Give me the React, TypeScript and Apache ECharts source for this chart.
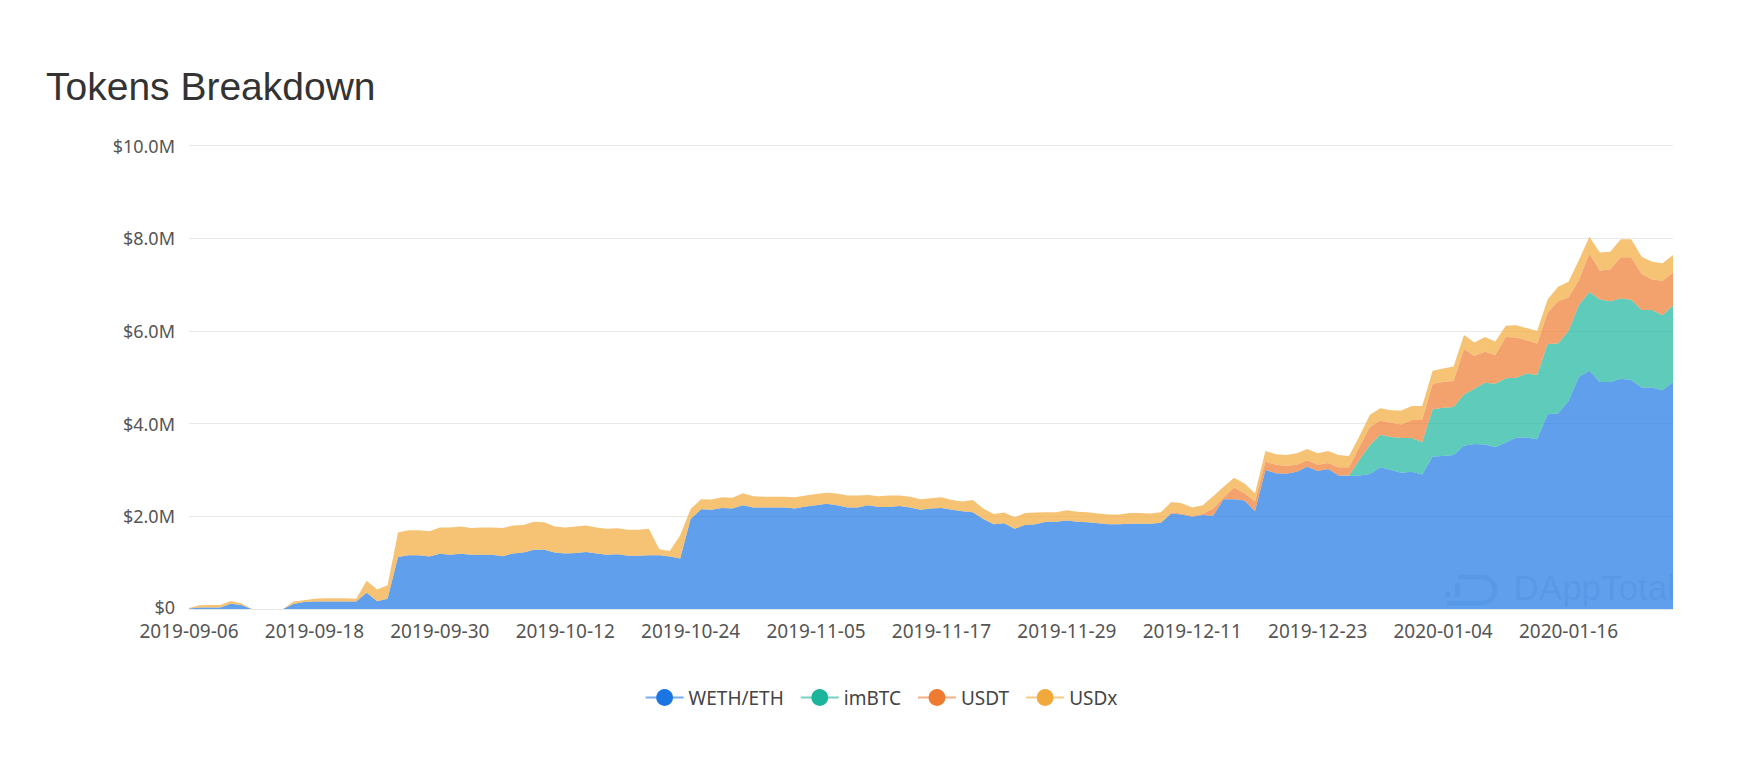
import React, { useEffect, useRef } from "react";
import * as echarts from "echarts";

// ---------- data (values in millions of USD) ----------
const START_DATE = "2019-09-06";

const SERIES_NAMES = ["WETH/ETH", "imBTC", "USDT", "USDx"];

const WETH = [
  0.01, 0.03, 0.03, 0.03, 0.115, 0.085, 0, 0, 0, 0,
  0.11, 0.15, 0.16, 0.16, 0.16, 0.16, 0.16, 0.35, 0.165, 0.22,
  1.12, 1.16, 1.16, 1.13, 1.19, 1.17, 1.19, 1.17, 1.17, 1.17,
  1.14, 1.2, 1.22, 1.28, 1.28, 1.22, 1.2, 1.21, 1.23, 1.2,
  1.17, 1.18, 1.15, 1.15, 1.16, 1.16, 1.13, 1.09, 1.94, 2.15,
  2.14, 2.18, 2.17, 2.24, 2.19, 2.19, 2.19, 2.19, 2.17, 2.21,
  2.24, 2.27, 2.24, 2.19, 2.19, 2.24, 2.2, 2.2, 2.22, 2.19,
  2.14, 2.17, 2.18, 2.14, 2.11, 2.09, 1.94, 1.83, 1.85, 1.73,
  1.81, 1.83, 1.88, 1.88, 1.91, 1.88, 1.87, 1.85, 1.83, 1.83,
  1.84, 1.84, 1.84, 1.86, 2.06, 2.04, 1.99, 2.03, 2.01, 2.37,
  2.37, 2.34, 2.11, 3.0, 2.93, 2.92, 2.96, 3.07, 2.98, 3.02,
  2.88, 2.87, 2.88, 2.91, 3.06, 3.0, 2.94, 2.96, 2.9, 3.29,
  3.3, 3.32, 3.52, 3.56, 3.55, 3.49, 3.59, 3.7, 3.7, 3.66,
  4.2, 4.22, 4.49, 5.01, 5.14, 4.9, 4.9, 4.97, 4.94, 4.78,
  4.78, 4.72, 4.9,
];

const IMBTC = [
  0, 0, 0, 0, 0, 0, 0, 0, 0, 0, 0, 0, 0, 0, 0, 0, 0, 0, 0, 0,
  0, 0, 0, 0, 0, 0, 0, 0, 0, 0, 0, 0, 0, 0, 0, 0, 0, 0, 0, 0,
  0, 0, 0, 0, 0, 0, 0, 0, 0, 0, 0, 0, 0, 0, 0, 0, 0, 0, 0, 0,
  0, 0, 0, 0, 0, 0, 0, 0, 0, 0, 0, 0, 0, 0, 0, 0, 0, 0, 0, 0,
  0, 0, 0, 0, 0, 0, 0, 0, 0, 0, 0, 0, 0, 0, 0, 0, 0, 0, 0, 0,
  0, 0, 0, 0, 0, 0, 0, 0, 0, 0, 0,
  0.01, 0.34, 0.63, 0.7, 0.71, 0.75, 0.73, 0.7, 1.02, 1.04,
  1.04, 1.11, 1.19, 1.33, 1.37, 1.39, 1.29, 1.38, 1.39, 1.52,
  1.51, 1.51, 1.55, 1.7, 1.78, 1.74, 1.73, 1.73, 1.67, 1.67,
  1.62, 1.65,
];

const USDT = [
  0, 0, 0, 0, 0, 0, 0, 0, 0, 0, 0, 0, 0, 0, 0, 0, 0, 0, 0, 0,
  0, 0, 0, 0, 0, 0, 0, 0, 0, 0, 0, 0, 0, 0, 0, 0, 0, 0, 0, 0,
  0, 0, 0, 0, 0, 0, 0, 0, 0, 0, 0, 0, 0, 0, 0, 0, 0, 0, 0, 0,
  0, 0, 0, 0, 0, 0, 0, 0, 0, 0, 0, 0, 0, 0, 0, 0, 0, 0, 0, 0,
  0, 0, 0, 0, 0, 0, 0, 0, 0, 0, 0, 0, 0, 0,
  0.02, 0.02, 0.02, 0.02, 0.16, 0.04, 0.25, 0.16, 0.21, 0.18,
  0.18, 0.17, 0.15, 0.14, 0.13, 0.13, 0.18, 0.18, 0.28, 0.39,
  0.3, 0.31, 0.29, 0.39, 0.48, 0.55, 0.56, 0.56, 0.98, 0.71,
  0.67, 0.62, 0.89, 0.87, 0.72, 0.68, 0.67, 0.91, 0.72, 0.54,
  0.83, 0.62, 0.69, 0.89, 0.92, 0.78, 0.66, 0.74, 0.71,
];

const USDX = [
  0.01, 0.05, 0.055, 0.055, 0.055, 0.04, 0, 0, 0, 0,
  0.05, 0.04, 0.06, 0.07, 0.07, 0.07, 0.06, 0.26, 0.255, 0.29,
  0.53, 0.54, 0.54, 0.55, 0.57, 0.59, 0.59, 0.58, 0.59, 0.59,
  0.61, 0.6, 0.59, 0.6, 0.59, 0.56, 0.56, 0.57, 0.57, 0.56,
  0.56, 0.56, 0.56, 0.56, 0.57, 0.13, 0.12, 0.5, 0.22, 0.22,
  0.22, 0.23, 0.23, 0.26, 0.24, 0.23, 0.23, 0.23, 0.24, 0.24,
  0.24, 0.24, 0.25, 0.26, 0.26, 0.22, 0.23, 0.25, 0.23, 0.23,
  0.23, 0.22, 0.23, 0.21, 0.21, 0.26, 0.23, 0.22, 0.23, 0.25,
  0.26, 0.25, 0.21, 0.21, 0.22, 0.22, 0.22, 0.21, 0.21, 0.21,
  0.23, 0.23, 0.22, 0.23, 0.23, 0.22, 0.18, 0.19, 0.26, 0.23,
  0.21, 0.21, 0.18, 0.23, 0.23, 0.23, 0.25, 0.24, 0.25, 0.26,
  0.26, 0.24, 0.23, 0.26, 0.27, 0.27, 0.3, 0.3, 0.3, 0.28,
  0.29, 0.31, 0.3, 0.29, 0.32, 0.29, 0.24, 0.26, 0.26, 0.27,
  0.29, 0.31, 0.34, 0.43, 0.36, 0.39, 0.38, 0.39, 0.39, 0.37,
  0.38, 0.38, 0.38,
];

const Y_MAX = 10;
const Y_STEP = 2;
const X_LABEL_EVERY = 12;

// ---------- styles ----------
const COLORS = ["#1B76E4", "#1BB59C", "#EE7B30", "#F2A93B"];
const FONT = "'Noto Sans', 'Open Sans', sans-serif";

function buildDates(start: string, n: number): string[] {
  const [y, m, d] = start.split("-").map(Number);
  const base = Date.UTC(y, m - 1, d);
  const out: string[] = [];
  for (let i = 0; i < n; i++) {
    const t = new Date(base + i * 86400000);
    const mm = String(t.getUTCMonth() + 1).padStart(2, "0");
    const dd = String(t.getUTCDate()).padStart(2, "0");
    out.push(`${t.getUTCFullYear()}-${mm}-${dd}`);
  }
  return out;
}

let shapeRegistered = false;
function registerLogo() {
  if (shapeRegistered) return;
  shapeRegistered = true;
  echarts.graphic.registerShape(
    "dappLogo",
    echarts.graphic.extendPath(
      "M12 2 H36 A13 13 0 0 1 49 15 A13 13 0 0 1 36 28 H1",
      {}
    ) as any
  );
}

export default function App() {
  const ref = useRef<HTMLDivElement>(null);

  useEffect(() => {
    if (!ref.current) return;
    registerLogo();
    const chart = echarts.init(ref.current, undefined, { renderer: "svg" });
    const dates = buildDates(START_DATE, WETH.length);
    const seriesData = [WETH, IMBTC, USDT, USDX];

    const wmColor = "rgba(20, 50, 90, 0.1)";

    chart.setOption({
      animation: false,
      backgroundColor: "#ffffff",
      color: COLORS,
      title: {
        text: "Tokens Breakdown",
        left: 46,
        top: 67,
        padding: 0,
        textStyle: {
          fontFamily: "'Liberation Sans', Arial, sans-serif",
          fontSize: 39,
          fontWeight: "normal",
          color: "#333333",
        },
      },
      legend: {
        data: SERIES_NAMES,
        left: "center",
        top: 683,
        itemWidth: 38,
        itemHeight: 21,
        itemGap: 16,
        textStyle: { fontFamily: FONT, fontSize: 19, color: "#444444" },
        lineStyle: { width: 2, opacity: 0.6 },
      },
      grid: { left: 189, right: 89, top: 145.5, bottom: 155, containLabel: false },
      xAxis: {
        type: "category",
        data: dates,
        boundaryGap: false,
        axisLine: { show: true, lineStyle: { color: "#e6e6e6" } },
        axisTick: { show: false },
        axisLabel: {
          interval: X_LABEL_EVERY - 1,
          margin: 12,
          lineHeight: 19,
          fontFamily: FONT,
          fontSize: 19,
          color: "#555555",
        },
        splitLine: { show: false },
      },
      yAxis: {
        type: "value",
        min: 0,
        max: Y_MAX,
        interval: Y_STEP,
        axisLine: { show: false },
        axisTick: { show: false },
        axisLabel: {
          margin: 14,
          lineHeight: 17,
          fontFamily: FONT,
          fontSize: 18,
          color: "#555555",
          formatter: (v: number) => (v === 0 ? "{z|$0}" : `$${v.toFixed(1)}M`),
          rich: {
            z: {
              fontFamily: FONT,
              fontSize: 18,
              lineHeight: 17,
              color: "#555555",
              padding: [0, 0, 5, 0],
            },
          },
        },
        splitLine: { lineStyle: { color: "#e9e9e9" } },
      },
      series: SERIES_NAMES.map((name, i) => ({
        name,
        type: "line",
        stack: "total",
        data: seriesData[i],
        symbol: "circle",
        showSymbol: false,
        lineStyle: { width: 0 },
        areaStyle: { opacity: 0.7 },
        emphasis: { disabled: true },
      })),
      graphic: [
        {
          type: "group",
          z: 100,
          silent: true,
          children: [
            { type: "rect", shape: { x: 1445, y: 592, width: 5, height: 5 }, style: { fill: wmColor } },
            { type: "rect", shape: { x: 1455, y: 583, width: 5, height: 14 }, style: { fill: wmColor } },
            {
              type: "dappLogo",
              x: 1446,
              y: 575,
              style: { fill: "none", stroke: wmColor, lineWidth: 4.5 },
            },
            {
              type: "text",
              x: 1675,
              y: 605,
              style: {
                text: "DAppTotal",
                fontFamily: "'Liberation Sans', Arial, sans-serif",
                fontSize: 35,
                fill: wmColor,
                align: "right",
                verticalAlign: "bottom",
              },
            },
          ],
        },
      ],
    });

    return () => chart.dispose();
  }, []);

  return (
    <div
      ref={ref}
      style={{ position: "fixed", left: 0, top: 0, width: 1762, height: 764, background: "#fff" }}
    />
  );
}
